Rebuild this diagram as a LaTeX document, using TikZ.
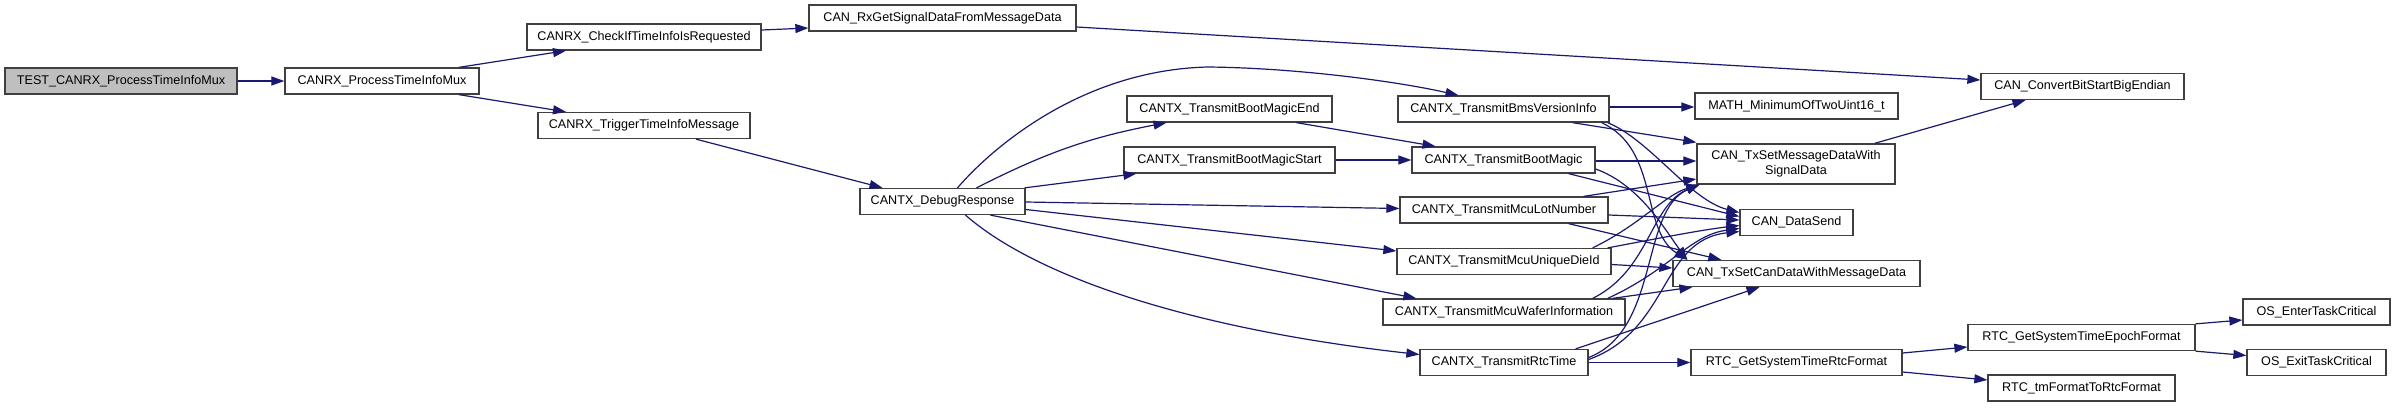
\documentclass[tikz,border=0pt]{standalone}
\usepackage{fontspec}
\setmainfont{Liberation Sans}
\usetikzlibrary{arrows.meta,calc}
\definecolor{edgec}{HTML}{191970}
\definecolor{boxc}{HTML}{404040}
\definecolor{rootfill}{HTML}{BFBFBF}
\begin{document}
\begin{tikzpicture}[x=1pt,y=-1pt,
  fn/.style={draw=boxc, line width=1.3pt, fill=white, rectangle, inner sep=0pt,
    minimum height=26pt, font=\fontsize{12.6}{15}\selectfont, align=center},
  e/.style={draw=edgec, line width=1.2pt, -{Triangle[length=13pt,width=9pt]}}]
\fill[white] (0,0) rectangle (2395,407);
\useasboundingbox (0,0) rectangle (2395,407);

\node[fn, fill=rootfill, minimum width=232pt] (test) at (121,81) {TEST\_CANRX\_ProcessTimeInfoMux};
\node[fn, minimum width=194pt] (ptim) at (382,81) {CANRX\_ProcessTimeInfoMux};
\node[fn, minimum width=234pt] (chk) at (644,37) {CANRX\_CheckIfTimeInfoIsRequested};
\node[fn, minimum width=212pt] (trg) at (644,125.5) {CANRX\_TriggerTimeInfoMessage};
\node[fn, minimum width=267pt] (rxg) at (942.5,18) {CAN\_RxGetSignalDataFromMessageData};
\node[fn, minimum width=165pt] (dbg) at (942.5,201.5) {CANTX\_DebugResponse};
\node[fn, minimum width=205pt] (bme) at (1229.5,109) {CANTX\_TransmitBootMagicEnd};
\node[fn, minimum width=211pt] (bms) at (1229.5,160) {CANTX\_TransmitBootMagicStart};
\node[fn, minimum width=211pt] (bvi) at (1503.5,109) {CANTX\_TransmitBmsVersionInfo};
\node[fn, minimum width=183pt] (bmg) at (1503.5,160) {CANTX\_TransmitBootMagic};
\node[fn, minimum width=208pt] (lot) at (1504,210) {CANTX\_TransmitMcuLotNumber};
\node[fn, minimum width=214pt] (die) at (1504,261.5) {CANTX\_TransmitMcuUniqueDieId};
\node[fn, minimum width=242pt] (waf) at (1504,312) {CANTX\_TransmitMcuWaferInformation};
\node[fn, minimum width=168pt] (rtc) at (1504,362.5) {CANTX\_TransmitRtcTime};
\node[fn, minimum width=203pt] (math) at (1796.5,106) {MATH\_MinimumOfTwoUint16\_t};
\node[fn, minimum width=198pt, minimum height=40pt] (tsm) at (1796,164) {CAN\_TxSetMessageDataWith\\SignalData};
\node[fn, minimum width=113pt] (ds) at (1796.5,222.5) {CAN\_DataSend};
\node[fn, minimum width=247pt] (tsc) at (1796.5,273.5) {CAN\_TxSetCanDataWithMessageData};
\node[fn, minimum width=211pt] (rgf) at (1796.5,362.5) {RTC\_GetSystemTimeRtcFormat};
\node[fn, minimum width=203pt] (cvt) at (2082.5,86.5) {CAN\_ConvertBitStartBigEndian};
\node[fn, minimum width=227pt] (epo) at (2081.5,337.5) {RTC\_GetSystemTimeEpochFormat};
\node[fn, minimum width=187pt] (tmf) at (2081.5,388) {RTC\_tmFormatToRtcFormat};
\node[fn, minimum width=147pt] (ent) at (2316.5,312) {OS\_EnterTaskCritical};
\node[fn, minimum width=139pt] (ext) at (2316.5,362.5) {OS\_ExitTaskCritical};

\draw[e] (test) -- (ptim);
\draw[e] ($(ptim.north)+(77,0)$) -- ($(chk.south)+(-78,0)$);
\draw[e] ($(ptim.south)+(77,0)$) -- ($(trg.north)+(-78,0)$);
\draw[e] ($(chk.east)+(0,-7)$) -- ($(rxg.west)+(0,10)$);
\draw[e] ($(rxg.east)+(0,9)$) -- ($(cvt.west)+(0,-6.5)$);
\draw[e] ($(trg.south)+(52,0)$) -- ($(dbg.north)+(-60,0)$);
\draw[e] ($(dbg.north)+(15,0)$) .. controls (990,150) and (1080,70) .. (1208,67)
   .. controls (1300,68) and (1400,82) .. ($(bvi.north)+(-45,0)$);
\draw[e] ($(dbg.north)+(34,0)$) to[bend left=8] ($(bme.south)+(-63,0)$);
\draw[e] ($(dbg.north east)+(-1,0)$) -- ($(bms.south west)+(13,0)$);
\draw[e] ($(dbg.east)+(0,0.5)$) -- ($(lot.west)+(0,-1.5)$);
\draw[e] ($(dbg.east)+(0,8)$) -- ($(die.west)+(0,-10.5)$);
\draw[e] ($(dbg.south)+(48,0)$) -- ($(waf.north west)+(34,0)$);
\draw[e] ($(dbg.south)+(23,0)$) .. controls (1040,280) and (1200,330) .. ($(rtc.west)+(0,-8)$);
\draw[e] ($(bme.south)+(67,0)$) -- ($(bmg.north)+(-68,0)$);
\draw[e] (bms) -- (bmg);
\draw[e] ($(bvi.east)+(0,-2)$) -- ($(math.west)+(0,1)$);
\draw[e] ($(bvi.south east)+(-37,0)$) -- ($(tsm.north west)+(0,-1)$);
\draw[e] ($(bvi.south east)+(-2,0)$) .. controls (1650,140) and (1690,200) .. ($(ds.west)+(0,-10)$);
\draw[e] ($(bvi.south east)+(-8,0)$) .. controls (1660,150) and (1640,230) .. ($(tsc.north west)+(15,0)$);
\draw[e] ($(bmg.east)+(0,1)$) -- ($(tsm.west)+(0,-3)$);
\draw[e] ($(bmg.south east)+(-27,0)$) -- ($(ds.west)+(0,-6)$);
\draw[e] ($(bmg.east)+(0,9)$) .. controls (1640,185) and (1665,230) .. ($(tsc.north west)+(15,0)$);
\draw[e] ($(lot.north east)+(-25,0)$) -- ($(tsm.west)+(0,15)$);
\draw[e] ($(lot.east)+(0,5)$) -- ($(ds.west)+(0,-2.5)$);
\draw[e] ($(lot.south east)+(-40,0)$) -- ($(tsc.north west)+(49,0)$);
\draw[e] ($(die.north east)+(-19,0)$) .. controls (1640,225) and (1665,195) .. ($(tsm.south west)+(3,0)$);
\draw[e] ($(die.north east)+(-4,0)$) .. controls (1650,240) and (1700,230) .. ($(ds.west)+(0,3)$);
\draw[e] ($(die.east)+(0,3)$) -- ($(tsc.west)+(0,-5.5)$);
\draw[e] ($(waf.north east)+(-33,0)$) .. controls (1650,270) and (1650,205) .. ($(tsm.south west)+(3,0)$);
\draw[e] ($(waf.north east)+(-18,0)$) .. controls (1670,270) and (1690,235) .. ($(ds.west)+(0,6)$);
\draw[e] ($(waf.north east)+(-13,0)$) -- ($(tsc.south west)+(20,0)$);
\draw[e] ($(rtc.east)+(0,-5)$) .. controls (1660,330) and (1640,210) .. ($(tsm.south west)+(3,0)$);
\draw[e] ($(rtc.east)+(0,-3)$) .. controls (1670,330) and (1660,240) .. ($(ds.west)+(0,9)$);
\draw[e] ($(rtc.north east)+(-13,0)$) -- ($(tsc.south)+(-37,0)$);
\draw[e] (rtc) -- (rgf);
\draw[e] ($(tsm.north east)+(-21,0)$) -- ($(cvt.south)+(-57,0)$);
\draw[e] ($(rgf.east)+(0,-9.5)$) -- ($(epo.west)+(0,9.5)$);
\draw[e] ($(rgf.east)+(0,9.5)$) -- ($(tmf.west)+(0,-8)$);
\draw[e] (epo.north east) -- ($(ent.west)+(0,8)$);
\draw[e] (epo.south east) -- ($(ext.west)+(0,-7)$);
\end{tikzpicture}
\end{document}
